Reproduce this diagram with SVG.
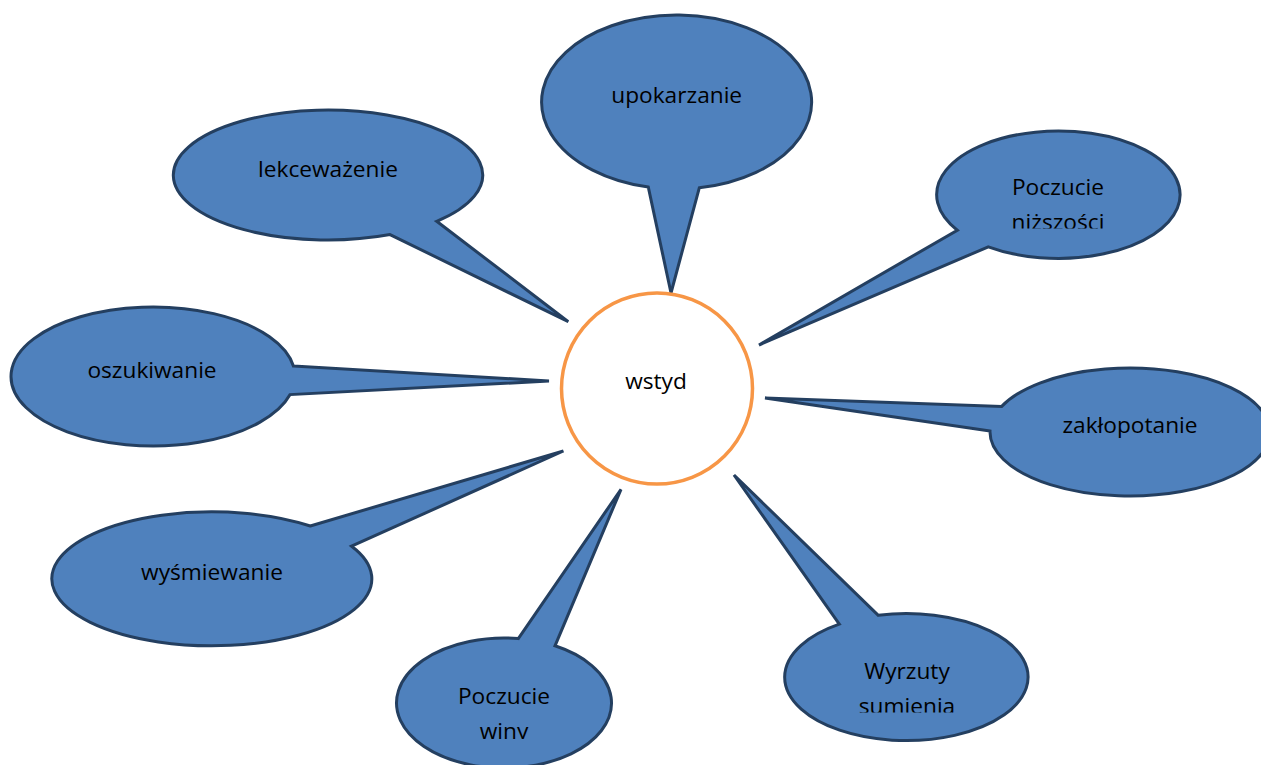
<svg xmlns="http://www.w3.org/2000/svg" width="1261" height="765" viewBox="0 0 1261 765">
<style>
.bubble{fill:#4F81BD;stroke:#243F60;stroke-width:3;stroke-linejoin:miter;stroke-miterlimit:4}
.lbl{font-family:"Open Sans","Noto Sans","Liberation Sans",sans-serif;font-size:22.7px;fill:#000;text-anchor:middle}
.hub{fill:#fff;stroke:#F79646;stroke-width:3.5}
</style>
<defs>
<clipPath id="clipNiz" clipPathUnits="userSpaceOnUse"><rect x="900" y="150" width="320" height="78.5"/></clipPath>
<clipPath id="clipSum" clipPathUnits="userSpaceOnUse"><rect x="780" y="640" width="260" height="72.5"/></clipPath>
<clipPath id="clipWin" clipPathUnits="userSpaceOnUse"><rect x="390" y="660" width="230" height="79"/></clipPath>
</defs>
<rect width="1261" height="765" fill="#fff"/>
<g id="connectors"></g>
<g id="node-upokarzanie">
<path class="bubble" d="M 699.3 187.8 L 671 293 L 648.3 187.1 A 135 87 0 1 1 699.3 187.8 Z"/>
<text class="lbl" x="676.7" y="103">upokarzanie</text>
</g>
<g id="node-poczucie-nizszosci">
<path class="bubble" d="M 988.3 246.8 L 759 345 L 957.3 230.2 A 121.7 63.7 0 1 1 988.3 246.8 Z"/>
<g clip-path="url(#clipNiz)">
<text class="lbl" x="1058" y="195">Poczucie</text>
<text class="lbl" x="1058" y="229.5">niższości</text>
</g>
</g>
<g id="node-zaklopotanie">
<path class="bubble" d="M 990 431 L 765 398 L 1001.7 406.4 A 140 64 0 1 1 990 431 Z"/>
<text class="lbl" x="1130" y="433">zakłopotanie</text>
</g>
<g id="node-wyrzuty-sumienia">
<path class="bubble" d="M 839.3 624.1 L 734 475 L 878.3 615.3 A 121.7 63.5 0 1 1 839.3 624.1 Z"/>
<g clip-path="url(#clipSum)">
<text class="lbl" x="907" y="679">Wyrzuty</text>
<text class="lbl" x="907" y="713.5">sumienia</text>
</g>
</g>
<g id="node-poczucie-winy">
<path class="bubble" d="M 518.3 638.6 L 621 489.3 L 555 645.8 A 107.5 65 0 1 1 518.3 638.6 Z"/>
<g clip-path="url(#clipWin)">
<text class="lbl" x="504" y="704">Poczucie</text>
<text class="lbl" x="504" y="738.5">winy</text>
</g>
</g>
<g id="node-wysmiewanie">
<path class="bubble" d="M 310.3 526 L 563.4 451 L 351.6 546.2 A 160 67 0 1 1 310.3 526 Z"/>
<text class="lbl" x="212" y="579.5">wyśmiewanie</text>
</g>
<g id="node-oszukiwanie">
<path class="bubble" d="M 293.4 366 L 549 381 L 290.1 394.6 A 142 69.5 0 1 1 293.4 366 Z"/>
<text class="lbl" x="152" y="378">oszukiwanie</text>
</g>
<g id="node-lekcewazenie">
<path class="bubble" d="M 436.7 221.3 L 568.3 321.7 L 390 234.6 A 154.7 65 0 1 1 436.7 221.3 Z"/>
<text class="lbl" x="328" y="176.7">lekceważenie</text>
</g>
<g id="node-wstyd">
<circle class="hub" cx="657" cy="388.5" r="95.5"/>
<text class="lbl" x="656" y="389">wstyd</text>
</g>
</svg>
